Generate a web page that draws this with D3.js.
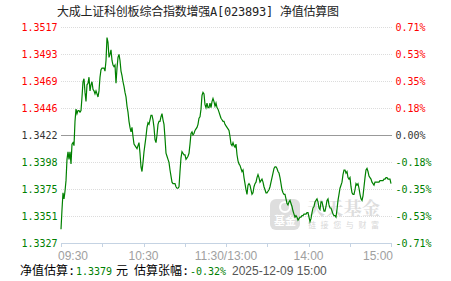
<!DOCTYPE html>
<html>
<head>
<meta charset="utf-8">
<script src="https://cdn.jsdelivr.net/npm/d3@7"></script>
<style>
body { margin: 0; background: #fff; }
svg { display: block; }
</style>
</head>
<body>
<script>
// chart data
var title = "大成上证科创板综合指数增强A[023893] 净值估算图";
var leftLabels = ["1.3517", "1.3493", "1.3469", "1.3446", "1.3422", "1.3398", "1.3375", "1.3351", "1.3327"];
var rightLabels = ["0.71%", "0.53%", "0.35%", "0.18%", "0.00%", "-0.18%", "-0.35%", "-0.53%", "-0.71%"];
var timeLabels = ["09:30", "10:30", "11:30/13:00", "14:00", "15:00"];
var timeLabelMinutes = [0, 60, 120, 180, 240];
var estNav = "1.3379";
var estPct = "-0.32%";
var estTime = "2025-12-09 15:00";

// estimated change (%) through the day
var pct = [
  -0.62, -0.49, -0.38, -0.42, -0.37, -0.30, -0.16, -0.11, -0.16, -0.11, -0.19, -0.06, -0.05, -0.07, 0.09, 0.17,
  0.14, 0.16, 0.16, 0.15, 0.16, 0.25, 0.35, 0.37, 0.28, 0.22, 0.33, 0.34, 0.38, 0.29, 0.33, 0.35,
  0.30, 0.29, 0.27, 0.29, 0.27, 0.25, 0.29, 0.38, 0.43, 0.44, 0.44, 0.44, 0.42, 0.49, 0.64, 0.61,
  0.51, 0.53, 0.56, 0.49, 0.46, 0.45, 0.46, 0.34, 0.44, 0.51, 0.53, 0.49, 0.42, 0.39, 0.35, 0.32,
  0.28, 0.25, 0.19, 0.15, 0.09, 0.05, 0.02, 0.05, -0.01, -0.06, -0.07, -0.08, -0.09, -0.07, -0.05, -0.12,
  -0.21, -0.24, -0.18, -0.11, -0.06,
  -0.01, 0.05, 0.08, 0.07, 0.10, 0.13, 0.13, 0.10, 0.05, -0.03, -0.05, 0.00, 0.07, 0.09, 0.09, 0.12,
  0.14, 0.10, 0.07, -0.02, -0.12, -0.14, -0.16, -0.18, -0.23, -0.27, -0.31, -0.32, -0.32, -0.32, -0.34, -0.35,
  -0.35, -0.34, -0.24, -0.15, -0.11, -0.12, -0.13, -0.13, -0.16, -0.15, -0.14, -0.12, -0.06, 0.01, 0.02, 0.00,
  0.01, 0.03, 0.04, 0.05, 0.07, 0.11, 0.12, 0.17, 0.26, 0.28, 0.27, 0.20, 0.18, 0.21, 0.18, 0.18,
  0.21, 0.18, 0.22, 0.24, 0.22, 0.19, 0.21, 0.18, 0.17, 0.15, 0.13, 0.11, 0.10, 0.09, 0.09, 0.07,
  0.06, 0.05, 0.04, 0.03, -0.01,
  -0.06, -0.07, -0.05, -0.07, -0.08, -0.06, -0.13, -0.17, -0.19, -0.20, -0.22, -0.24, -0.23, -0.28, -0.32, -0.36,
  -0.39, -0.33, -0.32, -0.33, -0.36, -0.39, -0.38, -0.34, -0.32, -0.31, -0.28, -0.26, -0.28, -0.31, -0.30, -0.29,
  -0.31, -0.34, -0.36, -0.38, -0.38, -0.37, -0.36, -0.34, -0.31, -0.28, -0.25, -0.22, -0.21, -0.21, -0.22, -0.24,
  -0.25, -0.28, -0.32, -0.36, -0.38, -0.39, -0.39, -0.42, -0.45, -0.46, -0.44, -0.43, -0.45, -0.47, -0.50, -0.52,
  -0.54, -0.53, -0.54, -0.56, -0.55, -0.54, -0.54, -0.53, -0.53, -0.52, -0.52, -0.52, -0.51, -0.51, -0.54, -0.57,
  -0.55, -0.51, -0.48, -0.47, -0.44,
  -0.43, -0.42, -0.44, -0.48, -0.49, -0.44, -0.44, -0.47, -0.50, -0.50, -0.47, -0.43, -0.42, -0.46, -0.48, -0.48,
  -0.50, -0.52, -0.53, -0.53, -0.54, -0.49, -0.43, -0.39, -0.35, -0.33, -0.31, -0.26, -0.23, -0.23, -0.25, -0.24,
  -0.28, -0.29, -0.28, -0.34, -0.38, -0.39, -0.39, -0.36, -0.32, -0.33, -0.32, -0.35, -0.39, -0.42, -0.43, -0.40,
  -0.34, -0.28, -0.23, -0.22, -0.24, -0.27, -0.28, -0.29, -0.31, -0.32, -0.33, -0.31, -0.31, -0.31, -0.31, -0.31,
  -0.30, -0.30, -0.30, -0.30, -0.29, -0.29, -0.28, -0.28, -0.29, -0.29, -0.29, -0.32
];

var width = 451;
var height = 281;
var red = "#ff0000", green = "#008000", dark = "#333333";
var mono = "'DejaVu Sans Mono', 'Liberation Mono', monospace";
var cjk = "'DejaVu Sans Mono', 'Noto Sans CJK SC', sans-serif";

var svg = d3.select("body").append("svg")
    .attr("width", width)
    .attr("height", height);

var x = d3.scaleLinear().domain([0, pct.length - 1]).range([61, 391]);
var t = d3.scaleLinear().domain([0, 240]).range([61, 391]);
var y = d3.scaleLinear().domain([-0.71, 0.71]).range([243, 27]);

var yTicks = d3.range(9).map(function(i) { return 0.71 - i * 0.71 / 4; });

function labelColor(i) {
    if (i < 4) return red;
    if (i === 4) return dark;
    return green;
}

// title
svg.append("text")
    .attr("x", 57)
    .attr("y", 12)
    .attr("dominant-baseline", "central")
    .attr("font-family", cjk)
    .attr("font-size", 12)
    .attr("textLength", 282)
    .attr("fill", "#222")
    .text(title);

// watermark
var wm = svg.append("g");
wm.append("rect")
    .attr("x", 270).attr("y", 199).attr("width", 30).attr("height", 31).attr("rx", 6)
    .attr("fill", "#dedede");
wm.append("circle")
    .attr("cx", 285).attr("cy", 207).attr("r", 5)
    .attr("fill", "none").attr("stroke", "#fff").attr("stroke-width", 2);
wm.append("text")
    .attr("x", 285).attr("y", 225).attr("text-anchor", "middle")
    .attr("font-family", "'Noto Sans CJK SC', sans-serif").attr("font-size", 11).attr("font-weight", "bold")
    .attr("fill", "#fff").text("基金");
wm.append("text")
    .attr("x", 307).attr("y", 215)
    .attr("font-family", "'Noto Serif CJK SC', 'Noto Sans CJK SC', serif").attr("font-size", 18).attr("font-weight", "bold")
    .attr("textLength", 73)
    .attr("fill", "#dddddd").text("天天基金");
wm.append("text")
    .attr("x", 308).attr("y", 228)
    .attr("font-family", "'Noto Sans CJK SC', sans-serif").attr("font-size", 8)
    .attr("textLength", 71)
    .attr("fill", "#d8d8d8").text("链接您与财富");

// grid
svg.append("g")
    .selectAll("line")
    .data(yTicks.slice(0, 8))
    .enter()
    .append("line")
    .attr("x1", 61).attr("x2", 392)
    .attr("y1", function(d) { return Math.round(y(d)) + 0.5; })
    .attr("y2", function(d) { return Math.round(y(d)) + 0.5; })
    .attr("stroke", function(d, i) { return i === 4 ? "#999" : "#dcdcdc"; })
    .attr("stroke-dasharray", function(d, i) { return i === 4 ? null : "1,1"; });

// bottom axis
var axis = svg.append("g").attr("stroke", "#c5d3e3");
axis.append("line")
    .attr("x1", 61).attr("x2", 392)
    .attr("y1", 243.5).attr("y2", 243.5);
axis.selectAll(".tk")
    .data(d3.range(0, 241, 30))
    .enter()
    .append("line")
    .attr("x1", function(d) { return Math.round(t(d)) + 0.5; })
    .attr("x2", function(d) { return Math.round(t(d)) + 0.5; })
    .attr("y1", 243).attr("y2", 247);

svg.append("g")
    .selectAll("text")
    .data(timeLabels)
    .enter()
    .append("text")
    .attr("x", function(d, i) {
        if (i === 0) return t(timeLabelMinutes[i]) - 3;
        if (i === timeLabels.length - 1) return t(timeLabelMinutes[i]) + 2;
        return t(timeLabelMinutes[i]);
    })
    .attr("y", 259.5)
    .attr("text-anchor", function(d, i) {
        if (i === 0) return "start";
        if (i === timeLabels.length - 1) return "end";
        return "middle";
    })
    .attr("font-family", "'Liberation Sans', Arial, sans-serif")
    .attr("font-size", 12)
    .attr("fill", "#a0a0a0")
    .text(function(d) { return d; });

// y labels
svg.append("g")
    .selectAll("text")
    .data(leftLabels)
    .enter()
    .append("text")
    .attr("x", 57.5)
    .attr("y", function(d, i) { return y(yTicks[i]); })
    .attr("text-anchor", "end")
    .attr("dominant-baseline", "central")
    .attr("font-family", mono)
    .attr("font-size", 10)
    .attr("fill", function(d, i) { return labelColor(i); })
    .text(function(d) { return d; });

svg.append("g")
    .selectAll("text")
    .data(rightLabels)
    .enter()
    .append("text")
    .attr("x", 395.5)
    .attr("y", function(d, i) { return y(yTicks[i]); })
    .attr("dominant-baseline", "central")
    .attr("font-family", mono)
    .attr("font-size", 10)
    .attr("fill", function(d, i) { return labelColor(i); })
    .text(function(d) { return d; });

// line
var line = d3.line()
    .x(function(d, i) { return x(i); })
    .y(function(d) { return y(d); });

svg.append("path")
    .datum(pct)
    .attr("d", line)
    .attr("fill", "none")
    .attr("stroke", green)
    .attr("stroke-width", 1.2);

// footer
var foot = svg.append("text")
    .attr("y", 271)
    .attr("dominant-baseline", "central")
    .attr("font-family", cjk)
    .attr("font-size", 12);
foot.append("tspan").attr("x", 20).attr("fill", "#000").text("净值估算:");
foot.append("tspan").attr("x", 76).attr("fill", green).attr("font-size", 10).text(estNav);
foot.append("tspan").attr("x", 116).attr("fill", "#000").text("元");
foot.append("tspan").attr("x", 134).attr("fill", "#000").text("估算张幅:");
foot.append("tspan").attr("x", 190).attr("fill", green).attr("font-size", 10).text(estPct);
foot.append("tspan").attr("x", 232).attr("fill", "#555")
    .attr("font-family", "'Liberation Sans', Arial, sans-serif").text(estTime);
</script>
</body>
</html>
